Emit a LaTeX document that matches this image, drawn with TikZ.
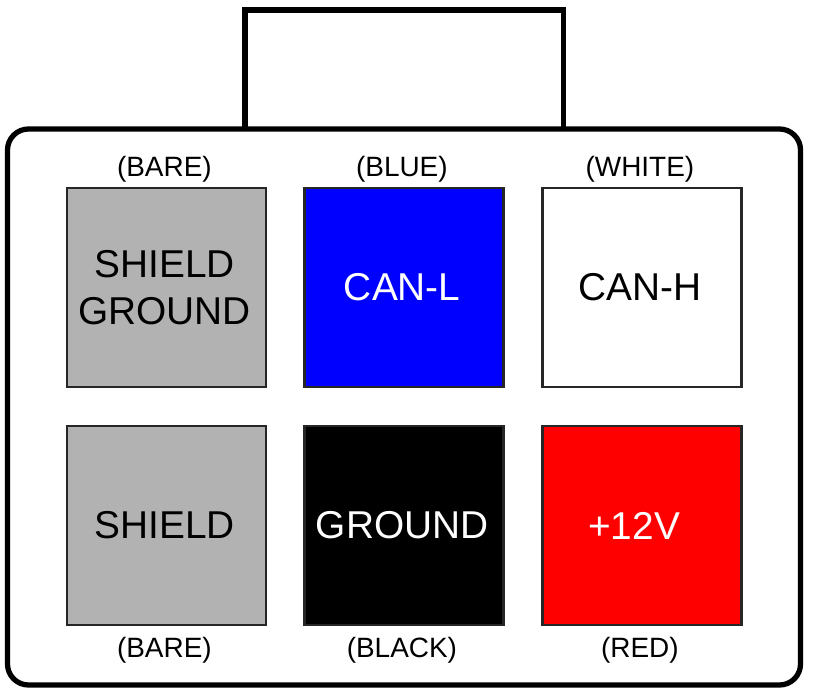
\documentclass[tikz,border=0pt]{standalone}
\usepackage{fontspec}
\setmainfont{Liberation Sans}
\usetikzlibrary{positioning}
\newcommand{\nudge}[1]{#1\kern2pt}
\tikzset{
  pinbox/.style={draw=black!85, line width=1.4pt, minimum size=3.98cm, inner sep=0pt,
    align=center, font=\fontsize{22.1}{27}\selectfont},
  wirelabel/.style={inner sep=0pt, xshift=-1.2pt, font=\fontsize{15.9}{18}\selectfont},
  shell/.style={line width=3pt}
}
\begin{document}
\begin{tikzpicture}[x=0.02cm,y=-0.02cm]
  \useasboundingbox (0,0) rectangle (813,695);
  \draw [shell] (245,129) |- (563.5,10) -- (563.5,129);
  \draw [shell, rounded corners=0.42cm] (7.5,129) rectangle (800.5,685);
  % top row
  \node [pinbox, fill=black!30] (shieldgnd) at (166.5,287.5) {\nudge{SHIELD}\\\nudge{GROUND}};
  \node [pinbox, fill=blue, text=white] (canl) at (404,287.5) {\nudge{CAN-L}};
  \node [pinbox, fill=white] (canh) at (642,287.5) {\nudge{CAN-H}};
  \node [wirelabel, above=10pt of shieldgnd.north, anchor=center] (bare1) {(BARE)};
  \node [wirelabel, above=10pt of canl.north, anchor=center] (blue) {(BLUE)};
  \node [wirelabel, above=10pt of canh.north, anchor=center] (white) {(WHITE)};
  % bottom row
  \node [pinbox, fill=black!30] (shield) at (166.5,525.5) {\nudge{SHIELD}};
  \node [pinbox, fill=black, text=white] (ground) at (404,525.5) {\nudge{GROUND}};
  \node [pinbox, fill=red, text=white] (plus) at (642,525.5) {+12V\kern9pt};
  \node [wirelabel, below=13.5pt of shield.south, anchor=center] (bare2) {(BARE)};
  \node [wirelabel, below=13.5pt of ground.south, anchor=center] (black) {(BLACK)};
  \node [wirelabel, below=13.5pt of plus.south, anchor=center] (redlabel) {(RED)};
\end{tikzpicture}
\end{document}
